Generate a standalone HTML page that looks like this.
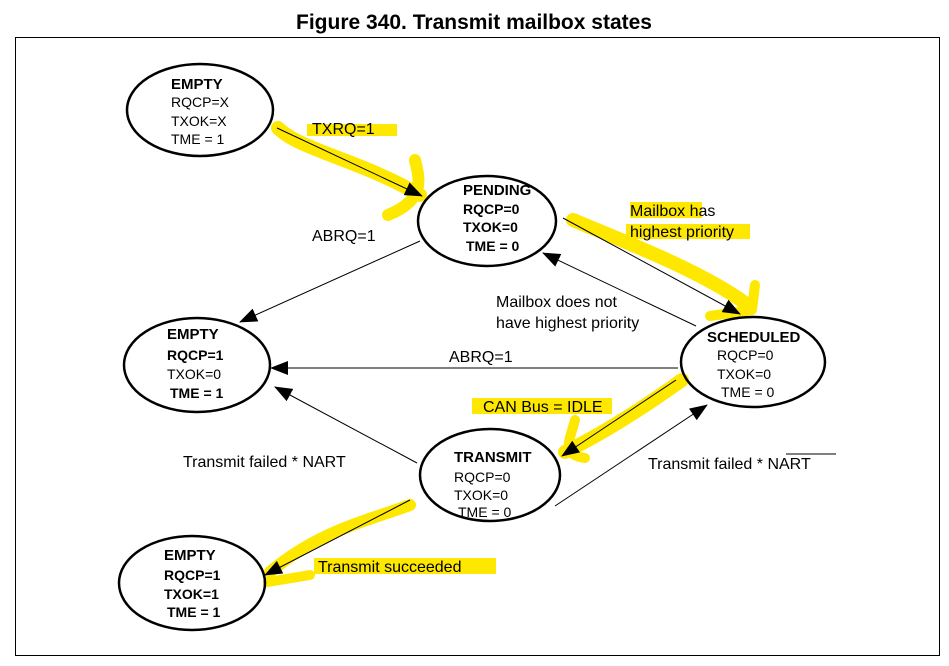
<!DOCTYPE html>
<html><head><style>
body{margin:0;background:#fff}
svg{display:block;font-family:"Liberation Sans",Arial,sans-serif}
</style></head><body>
<svg width="949" height="666" viewBox="0 0 949 666">
<defs><marker id="a" markerWidth="18" markerHeight="14" refX="17" refY="7" orient="auto" markerUnits="userSpaceOnUse"><path d="M0,0 L18,7 L0,14z" fill="#000"/></marker></defs>
<text x="474" y="29" text-anchor="middle" font-size="21" font-weight="bold">Figure 340. Transmit mailbox states</text>
<rect x="15.5" y="37.5" width="924" height="618" fill="none" stroke="#000" stroke-width="1"/>
<g stroke="#ffe800" fill="none" stroke-linecap="round" stroke-linejoin="round">
<path d="M278,128 C300,150 360,160 420,195" stroke-width="14"/>
<path d="M415,160 C420,180 425,200 388,215" stroke-width="12"/>
<rect x="307" y="124" width="90" height="12" fill="#ffe800" stroke="none"/>
<path d="M573,220 C620,240 700,270 745,303" stroke-width="14"/>
<path d="M755,285 L752,310 L710,316" stroke-width="10"/>
<rect x="630" y="202" width="72" height="16" fill="#ffe800" stroke="none"/>
<rect x="626" y="224" width="124" height="15" fill="#ffe800" stroke="none"/>
<path d="M682,380 C640,410 600,435 565,452" stroke-width="14"/>
<path d="M575,420 C570,440 560,455 585,458" stroke-width="10"/>
<rect x="472" y="398" width="140" height="16" fill="#ffe800" stroke="none"/>
<path d="M410,505 C370,520 320,530 270,572" stroke-width="12"/>
<path d="M268,582 L310,575" stroke-width="10"/>
<rect x="314" y="558" width="182" height="16" fill="#ffe800" stroke="none"/>
</g>
<g fill="none" stroke="#000" stroke-width="2.5">
<ellipse cx="200" cy="110" rx="73" ry="46"/>
<ellipse cx="487" cy="221" rx="69" ry="45"/>
<ellipse cx="197" cy="365" rx="73" ry="47"/>
<ellipse cx="753" cy="362" rx="72" ry="45"/>
<ellipse cx="490" cy="475" rx="70" ry="46"/>
<ellipse cx="192" cy="583" rx="73" ry="47"/>
</g>
<g stroke="#000" stroke-width="1" marker-end="url(#a)">
<line x1="277" y1="128" x2="422" y2="196"/>
<line x1="420" y1="241" x2="240" y2="322"/>
<line x1="563" y1="218" x2="740" y2="314"/>
<line x1="696" y1="326" x2="543" y2="253"/>
<line x1="678" y1="368" x2="271" y2="368"/>
<line x1="676" y1="380" x2="562" y2="456"/>
<line x1="417" y1="463" x2="275" y2="387"/>
<line x1="555" y1="506" x2="707" y2="405"/>
<line x1="410" y1="500" x2="265" y2="575"/>
</g>
<g font-size="14" text-anchor="start">
<text x="171" y="89" font-size="15" font-weight="bold">EMPTY</text>
<text x="171" y="107">RQCP=X</text>
<text x="171" y="126">TXOK=X</text>
<text x="171" y="144">TME = 1</text>
<text x="463" y="195" font-size="15" font-weight="bold">PENDING</text>
<text x="463" y="214" font-weight="bold">RQCP=0</text>
<text x="463" y="232" font-weight="bold">TXOK=0</text>
<text x="466" y="251" font-weight="bold">TME = 0</text>
<text x="167" y="339" font-size="15" font-weight="bold">EMPTY</text>
<text x="167" y="360" font-weight="bold">RQCP=1</text>
<text x="167" y="379">TXOK=0</text>
<text x="170" y="398" font-weight="bold">TME = 1</text>
<text x="707" y="342" font-size="15" font-weight="bold">SCHEDULED</text>
<text x="717" y="360">RQCP=0</text>
<text x="717" y="379">TXOK=0</text>
<text x="721" y="397">TME = 0</text>
<text x="454" y="462" font-size="15" font-weight="bold">TRANSMIT</text>
<text x="454" y="482">RQCP=0</text>
<text x="454" y="500">TXOK=0</text>
<text x="458" y="517">TME = 0</text>
<text x="164" y="560" font-size="15" font-weight="bold">EMPTY</text>
<text x="164" y="580" font-weight="bold">RQCP=1</text>
<text x="164" y="599" font-weight="bold">TXOK=1</text>
<text x="167" y="617" font-weight="bold">TME = 1</text>
</g>
<g font-size="16">
<text x="312" y="134">TXRQ=1</text>
<text x="312" y="241">ABRQ=1</text>
<text x="630" y="216">Mailbox has</text>
<text x="630" y="237">highest priority</text>
<text x="496" y="307">Mailbox does not</text>
<text x="496" y="328">have highest priority</text>
<text x="449" y="362">ABRQ=1</text>
<text x="483" y="412">CAN Bus = IDLE</text>
<text x="183" y="467">Transmit failed * NART</text>
<text x="648" y="469">Transmit failed * NART</text>
<line x1="786" y1="454" x2="836" y2="454" stroke="#000" stroke-width="1"/>
<text x="318" y="572">Transmit succeeded</text>
</g>
</svg>
</body></html>
